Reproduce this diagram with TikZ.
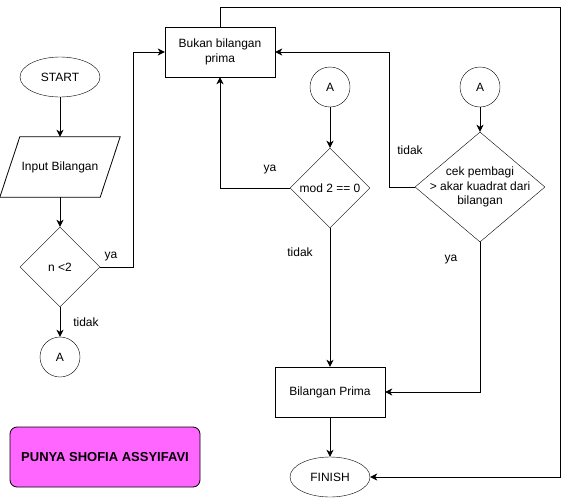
\documentclass[tikz,border=0pt]{standalone}
\usepackage{fontspec}
\setmainfont{Liberation Sans}
\usetikzlibrary{shapes.geometric,arrows.meta}
\definecolor{owner fill color}{HTML}{FF66FF}
\tikzset{
    x={1pt},
    y={-1pt},
    terminal/.style={
        draw, ellipse,
        inner sep=0pt,
        minimum width={80},
        minimum height={40},
    },
    io box/.style={
        rectangle,
        inner sep=0pt,
        minimum width={100},
        minimum height={60},
    },
    io outline/.style={
        draw=black,
        line width={0.8pt},
    },
    process/.style={
        draw, rectangle,
        align=center,
        inner sep=0pt,
        minimum width={110},
        minimum height={50},
    },
    decision/.style 2 args={
        draw, diamond,
        inner sep=0pt,
        minimum width={#1},
        minimum height={#2},
    },
    connector/.style={
        draw, circle,
        inner sep=0pt,
        minimum size={40},
    },
    flow/.style={
        draw=black,
        line width={0.9pt},
        -{Stealth[length=7pt,width=7pt,inset=2pt]},
    },
    branch label/.style={
        inner sep=0pt,
    },
    owner box/.style={
        draw=black, fill=owner fill color,
        rounded corners={7pt},
        line width={0.8pt},
        font={\fontsize{13}{15}\selectfont\bfseries},
        minimum width={190},
        minimum height={60},
    },
}

\begin{document}
\begin{tikzpicture}[font={\fontsize{12}{15}\selectfont}]
\useasboundingbox (0,0) rectangle (570,498);
% left column
\node[terminal] (start) at (60,77) {START};
\node[io box] (input) at (60,167) {Input Bilangan};
\path[io outline] ([xshift=10pt]input.north west) -- ([xshift=10pt]input.north east)
    -- ([xshift=-10pt]input.south east) -- ([xshift=-10pt]input.south west) -- cycle;
\node[decision={80}{80}] (nkurang) at (60,267) {n <2};
\node[connector] (akiri) at (60,357) {A};
% middle
\node[process] (bukan) at (220,52) {Bukan bilangan\\prima};
\node[connector] (amod) at (330,87) {A};
\node[decision={80}{80}] (nmod) at (330,188) {mod 2 == 0};
\node[process] (prima) at (330,392) {Bilangan Prima};
\node[terminal] (finish) at (330,477) {FINISH};
% right column
\node[connector] (apembagi) at (480,87) {A};
\node[decision={130}{110},
    label={[align=center,font={\fontsize{12}{14.5}\selectfont}]center:cek pembagi\\> akar kuadrat dari\\bilangan}]
    (npembagi) at (480,187) {};
\coordinate (sudut) at (560,7);
% owner
\node[owner box] (pemilik) at (105,457) {PUNYA SHOFIA ASSYIFAVI};
% connectors
\path[flow] (start) -- (input);
\path[flow] (input) -- (nkurang);
\path[flow] (nkurang.east) -- ++(33,0) |- (bukan.west);
\path[flow] (nkurang) -- (akiri);
\path[flow] (bukan.north) |- (sudut) |- (finish.east);
\path[flow] (amod) -- (nmod);
\path[flow] (nmod.west) -| (bukan.south);
\path[flow] (nmod) -- (prima);
\path[flow] (apembagi) -- (npembagi);
\path[flow] (npembagi.west) -- ++(-25,0) |- (bukan.east);
\path[flow] (npembagi.south) |- (prima.east);
\path[flow] (prima) -- (finish);
% labels
\node[branch label] (lya1) at (111,257) {ya};
\node[branch label] (ltidak1) at (86,322) {tidak};
\node[branch label] (lya2) at (270,170) {ya};
\node[branch label] (ltidak2) at (300,252) {tidak};
\node[branch label] (ltidak3) at (410,150) {tidak};
\node[branch label] (lya3) at (451,260) {ya};
\end{tikzpicture}
\end{document}
